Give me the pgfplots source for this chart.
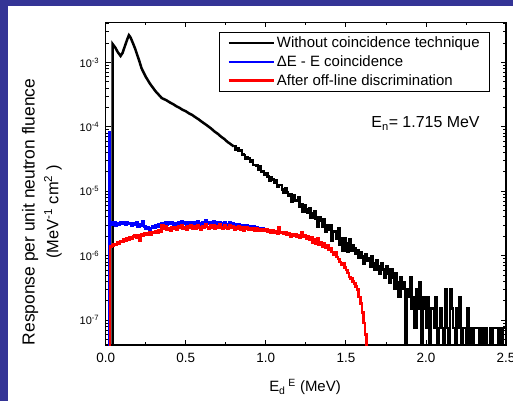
\documentclass[border=0pt]{standalone}
\usepackage{fontspec}
\setmainfont{Liberation Sans}
\usepackage{pgfplots}
\usepackage{pgfplotstable}
\pgfplotsset{compat=1.18}
\definecolor{bgblue}{RGB}{52,52,150}

\pgfplotstableread{
x y
0.044 1e-9
0.044 1.92e-3
0.060 1.70e-3
0.075 1.45e-3
0.093 1.26e-3
0.105 1.40e-3
0.120 1.80e-3
0.135 2.30e-3
0.145 2.65e-3
0.155 2.45e-3
0.168 2.05e-3
0.183 1.66e-3
0.195 1.35e-3
0.210 1.05e-3
0.224 8.1e-4
0.250 6.0e-4
0.276 4.7e-4
0.310 3.6e-4
0.350 2.80e-4
0.380 2.58e-4
0.400 2.40e-4
0.420 2.26e-4
0.440 2.10e-4
0.460 1.98e-4
0.480 1.84e-4
0.500 1.75e-4
0.520 1.62e-4
0.540 1.53e-4
0.560 1.41e-4
0.580 1.31e-4
0.600 1.20e-4
0.620 1.11e-4
0.640 1.02e-4
0.660 9.35e-5
0.680 8.45e-5
0.700 7.8e-5
0.720 7.05e-5
0.740 6.5e-5
0.760 5.85e-5
0.780 5.4e-5
0.800 4.96e-5
}\blackA

\pgfplotstableread{
x y
0.80 4.96e-5
0.81 4.45e-5
0.82 4.58e-5
0.83 4.19e-5
0.84 4.26e-5
0.85 3.70e-5
0.86 3.65e-5
0.87 3.22e-5
0.88 3.43e-5
0.89 3.21e-5
0.90 2.92e-5
0.91 3.01e-5
0.92 2.57e-5
0.93 2.57e-5
0.94 2.52e-5
0.95 2.15e-5
0.96 2.43e-5
0.97 2.04e-5
0.98 2.03e-5
0.99 1.81e-5
1.00 1.93e-5
1.01 1.71e-5
1.02 1.44e-5
1.03 1.64e-5
1.04 1.53e-5
1.05 1.35e-5
1.06 1.48e-5
1.07 1.18e-5
1.08 1.24e-5
1.09 1.24e-5
1.10 1.07e-5
1.11 9.42e-6
1.12 1.13e-5
1.13 9.58e-6
1.14 8.45e-6
1.15 9.08e-6
1.16 6.91e-6
1.17 8.63e-6
1.18 7.25e-6
1.19 7.34e-6
1.20 7.99e-6
1.21 5.75e-6
1.22 6.28e-6
1.23 4.84e-6
1.24 6.01e-6
1.25 5.23e-6
1.26 4.67e-6
1.27 5.44e-6
1.28 3.86e-6
1.29 4.56e-6
1.30 4.97e-6
1.31 3.72e-6
1.32 2.79e-6
1.33 3.97e-6
1.34 3.44e-6
1.35 2.79e-6
1.36 3.69e-6
1.37 2.32e-6
1.38 3.01e-6
1.39 2.56e-6
1.40 2.95e-6
1.41 1.73e-6
1.42 2.36e-6
1.43 2.41e-6
1.44 1.80e-6
1.45 2.69e-6
1.46 1.47e-6
1.47 1.89e-6
1.48 1.21e-6
1.49 1.85e-6
1.50 1.54e-6
1.51 1.16e-6
1.52 1.81e-6
1.53 1.21e-6
1.54 1.47e-6
1.55 1.292e-6
1.56 1.064e-6
1.57 1.216e-6
1.58 9.12e-7
1.59 1.14e-6
1.60 9.88e-7
1.61 7.6e-7
1.62 1.064e-6
1.63 8.36e-7
1.64 9.12e-7
1.65 6.84e-7
1.66 9.88e-7
1.67 7.6e-7
1.68 6.08e-7
1.69 8.36e-7
1.70 6.84e-7
1.71 5.32e-7
1.72 7.6e-7
1.73 6.08e-7
1.74 4.56e-7
1.75 6.84e-7
1.76 5.32e-7
1.77 3.8e-7
1.78 6.08e-7
1.79 4.56e-7
1.80 3.04e-7
1.81 5.32e-7
1.82 3.8e-7
1.83 2.28e-7
1.84 4.56e-7
1.85 3.04e-7
1.86 3.8e-7
1.87 1e-9
1.88 3.04e-7
1.89 2.28e-7
1.90 4.56e-7
1.91 1.52e-7
1.92 2.28e-7
1.93 7.6e-8
1.94 3.04e-7
1.95 1.52e-7
1.96 3.8e-7
1.97 1e-9
1.98 2.28e-7
1.99 1.52e-7
2.00 7.6e-8
2.01 2.28e-7
2.02 1e-9
2.03 1.52e-7
2.04 1.52e-7
2.05 7.6e-8
2.06 2.28e-7
2.07 1e-9
2.08 7.6e-8
2.09 1.52e-7
2.10 7.6e-8
2.11 1e-9
2.12 3.04e-7
2.13 7.6e-8
2.14 1e-9
2.15 3.04e-7
2.16 1.52e-7
2.17 7.6e-8
2.18 1e-9
2.19 1.52e-7
2.20 7.6e-8
2.21 2.28e-7
2.22 1e-9
2.23 7.6e-8
2.24 7.6e-8
2.25 1e-9
2.26 1.52e-7
2.27 1e-9
2.28 7.6e-8
2.29 1e-9
2.30 7.6e-8
2.31 7.6e-8
2.32 7.6e-8
2.33 1e-9
2.34 7.6e-8
2.35 7.6e-8
2.36 1e-9
2.37 7.6e-8
2.38 1e-9
2.39 1e-9
2.40 7.6e-8
2.41 1e-9
2.42 7.6e-8
2.43 7.6e-8
2.44 7.6e-8
2.45 1e-9
2.46 7.6e-8
2.47 1e-9
2.48 7.6e-8
2.49 7.6e-8
2.50 7.6e-8
}\blackB

\pgfplotstableread{
x y
0.018 1e-9
0.023 8.2e-5
0.028 3.35e-6
0.04 3.05e-6
0.05 3.30e-6
0.06 2.95e-6
0.07 3.20e-6
0.08 3.05e-6
0.09 3.35e-6
0.10 3.10e-6
0.11 3.25e-6
0.12 3.00e-6
0.13 3.30e-6
0.14 3.10e-6
0.15 3.20e-6
0.16 2.90e-6
0.17 3.15e-6
0.18 3.00e-6
0.19 3.25e-6
0.20 2.85e-6
0.21 3.10e-6
0.22 2.95e-6
0.23 3.45e-6
0.24 2.85e-6
0.25 2.60e-6
0.26 2.75e-6
0.27 2.55e-6
0.28 2.70e-6
0.29 2.85e-6
0.30 2.75e-6
0.31 2.95e-6
0.32 2.85e-6
0.33 3.05e-6
0.34 2.90e-6
0.35 3.20e-6
0.36 3.00e-6
0.37 3.25e-6
0.38 3.05e-6
0.39 3.30e-6
0.40 3.10e-6
0.41 3.35e-6
0.42 3.05e-6
0.43 3.20e-6
0.44 3.00e-6
0.45 3.30e-6
0.46 3.10e-6
0.47 3.40e-6
0.48 3.15e-6
0.49 3.30e-6
0.50 3.05e-6
0.51 3.25e-6
0.52 3.10e-6
0.53 3.35e-6
0.54 3.05e-6
0.55 3.30e-6
0.56 3.15e-6
0.57 3.40e-6
0.58 3.20e-6
0.59 3.05e-6
0.60 3.30e-6
0.61 3.15e-6
0.62 3.60e-6
0.63 3.25e-6
0.64 3.10e-6
0.65 3.35e-6
0.66 3.15e-6
0.67 3.40e-6
0.68 3.10e-6
0.69 3.30e-6
0.70 3.15e-6
0.71 3.35e-6
0.72 3.20e-6
0.73 3.05e-6
0.74 3.30e-6
0.75 3.10e-6
0.76 2.95e-6
0.77 3.25e-6
0.78 3.05e-6
0.79 3.15e-6
0.80 2.95e-6
0.81 3.10e-6
0.82 2.90e-6
0.83 3.05e-6
0.84 2.80e-6
0.85 2.95e-6
0.86 2.75e-6
0.87 2.90e-6
0.88 2.95e-6
0.89 2.70e-6
0.90 2.85e-6
0.91 2.75e-6
0.92 2.85e-6
0.93 2.65e-6
0.94 2.75e-6
0.95 2.60e-6
0.96 2.70e-6
0.97 2.50e-6
0.98 2.62e-6
0.99 2.48e-6
1.00 2.55e-6
1.01 2.38e-6
1.02 2.38e-6
}\blueD

\pgfplotstableread{
x y
0.020 1e-9
0.027 1.40e-6
0.04 1.45e-6
0.05 1.52e-6
0.06 1.48e-6
0.07 1.62e-6
0.08 1.55e-6
0.09 1.70e-6
0.10 1.66e-6
0.11 1.78e-6
0.12 1.72e-6
0.13 1.85e-6
0.14 1.76e-6
0.15 1.92e-6
0.16 1.84e-6
0.17 1.98e-6
0.18 2.10e-6
0.19 1.90e-6
0.20 2.05e-6
0.21 1.70e-6
0.22 2.15e-6
0.23 2.05e-6
0.24 2.25e-6
0.25 2.12e-6
0.26 2.20e-6
0.27 2.30e-6
0.28 2.15e-6
0.29 2.35e-6
0.30 2.25e-6
0.31 2.40e-6
0.32 2.30e-6
0.33 2.45e-6
0.34 2.38e-6
0.35 2.95e-6
0.36 2.60e-6
0.37 2.85e-6
0.38 2.55e-6
0.39 2.70e-6
0.40 2.45e-6
0.41 2.75e-6
0.42 2.60e-6
0.43 2.80e-6
0.44 2.55e-6
0.45 2.85e-6
0.46 2.70e-6
0.47 2.95e-6
0.48 2.60e-6
0.49 2.78e-6
0.50 2.50e-6
0.51 2.85e-6
0.52 2.70e-6
0.53 3.00e-6
0.54 2.65e-6
0.55 2.88e-6
0.56 2.60e-6
0.57 2.95e-6
0.58 2.75e-6
0.59 2.55e-6
0.60 2.90e-6
0.61 2.70e-6
0.62 3.05e-6
0.63 2.80e-6
0.64 2.60e-6
0.65 2.95e-6
0.66 2.75e-6
0.67 3.00e-6
0.68 2.65e-6
0.69 2.90e-6
0.70 2.70e-6
0.71 3.05e-6
0.72 2.80e-6
0.73 2.62e-6
0.74 2.95e-6
0.75 2.75e-6
0.76 2.58e-6
0.77 2.92e-6
0.78 2.70e-6
0.79 2.85e-6
0.80 2.55e-6
0.81 2.78e-6
0.82 2.62e-6
0.83 2.85e-6
0.84 2.50e-6
0.85 2.72e-6
0.86 2.40e-6
0.87 2.65e-6
0.88 2.75e-6
0.89 2.50e-6
0.90 2.68e-6
0.91 2.55e-6
0.92 2.70e-6
0.93 2.45e-6
0.94 2.62e-6
0.95 2.48e-6
0.96 2.60e-6
0.97 2.40e-6
0.98 2.58e-6
0.99 2.45e-6
1.00 2.55e-6
1.01 2.38e-6
1.02 2.50e-6
1.03 2.30e-6
1.04 2.45e-6
1.05 2.28e-6
1.06 2.40e-6
1.07 2.20e-6
1.08 2.75e-6
1.09 2.30e-6
1.10 2.35e-6
1.11 2.18e-6
1.12 2.30e-6
1.13 2.10e-6
1.14 2.22e-6
1.15 1.95e-6
1.16 2.15e-6
1.17 2.05e-6
1.18 2.18e-6
1.19 1.98e-6
1.20 2.10e-6
1.21 1.90e-6
1.22 2.35e-6
1.23 1.95e-6
1.24 2.05e-6
1.25 1.85e-6
1.26 1.98e-6
1.27 1.75e-6
1.28 1.90e-6
1.29 1.60e-6
1.30 1.78e-6
1.31 1.55e-6
1.32 1.85e-6
1.33 1.50e-6
1.34 1.62e-6
1.35 1.40e-6
1.36 1.55e-6
1.37 1.32e-6
1.38 1.45e-6
1.39 1.22e-6
1.40 1.30e-6
1.41 1.15e-6
1.42 1.05e-6
1.43 1.12e-6
1.44 9.5e-7
1.45 8.8e-7
1.46 8.0e-7
1.47 7.2e-7
1.48 7.6e-7
1.49 6.5e-7
1.50 6.0e-7
1.51 5.4e-7
1.52 4.7e-7
1.53 4.4e-7
1.54 4.0e-7
1.55 3.7e-7
1.56 3.3e-7
1.57 3.0e-7
1.58 2.3e-7
1.59 1.8e-7
1.60 1.3e-7
1.61 9e-8
1.62 6e-8
1.63 1e-9
1.64 1e-9
}\redD

\begin{document}
\begin{tikzpicture}[x=1bp,y=1bp]
\useasboundingbox (0,0) rectangle (513,401);
\clip (0,0) rectangle (513,401);
\fill[bgblue] (0,0) rectangle (513,401);
\fill[white] (8,0) rectangle (513,395);
\begin{axis}[
  at={(105.7bp,56bp)}, anchor=south west,
  scale only axis, width=400.3bp, height=322.7bp,
  ymode=log, xmin=0, xmax=2.5, ymin=4.1e-8, ymax=4.2e-3,
  xtick={0,0.5,1,1.5,2,2.5}, xticklabels={0.0,0.5,1.0,1.5,2.0,2.5},
  minor xtick={0.25,0.75,1.25,1.75,2.25},
  ytick={1e-7,1e-6,1e-5,1e-4,1e-3},
  yticklabels={10\textsuperscript{-7},10\textsuperscript{-6},10\textsuperscript{-5},10\textsuperscript{-4},10\textsuperscript{-3}},
  minor ytick={5e-8,6e-8,7e-8,8e-8,9e-8,2e-7,3e-7,4e-7,5e-7,6e-7,7e-7,8e-7,9e-7,2e-6,3e-6,4e-6,5e-6,6e-6,7e-6,8e-6,9e-6,2e-5,3e-5,4e-5,5e-5,6e-5,7e-5,8e-5,9e-5,2e-4,3e-4,4e-4,5e-4,6e-4,7e-4,8e-4,9e-4,2e-3,3e-3,4e-3},
  xticklabel style={font=\fontsize{13.5}{15}\selectfont, yshift=-5bp},
  yticklabel style={font=\fontsize{11}{13}\selectfont, xshift=-3bp},
  axis line style={line width=1.1bp},
  major tick length=5bp, minor tick length=3bp,
  every tick/.style={black, line width=0.8bp},
  legend style={at={(0.96,0.97)}, anchor=north east, draw=black, line width=0.8bp,
    font=\fontsize{15}{18}\selectfont, inner xsep=8bp, inner ysep=2.5bp, row sep=2.5bp},
  legend cell align=left,
  legend image code/.code={\path (-9bp,0bp) -- (36bp,0bp); \draw[#1, line width=2.5bp] (0bp,0bp) -- (36bp,0bp);},
]
\addplot[black, line width=2.5bp] table {\blackA};
\addlegendentry{Without coincidence technique}
\addplot[blue, line width=2.5bp, const plot mark left] table {\blueD};
\addlegendentry{ΔE - E coincidence}
\addplot[red, line width=2.5bp, const plot mark left] table {\redD};
\addlegendentry{After off-line discrimination}
\addplot[black, line width=2.5bp, const plot mark left, forget plot] table {\blackB};
\node[anchor=west, font=\fontsize{16}{19}\selectfont] at (rel axis cs:0.655,0.687) {E\textsubscript{n}= 1.715 MeV};
\end{axis}
\node[rotate=90, font=\fontsize{17.5}{20}\selectfont] at (30,189) {Response per unit neutron fluence};
\node[rotate=90, font=\fontsize{16.5}{19}\selectfont] at (53,189) {(MeV\textsuperscript{-1} cm\textsuperscript{2} )};
\node[font=\fontsize{15}{18}\selectfont] at (305,14.3) {E\textsubscript{d}\textsuperscript{ E} (MeV)};
\end{tikzpicture}
\end{document}
